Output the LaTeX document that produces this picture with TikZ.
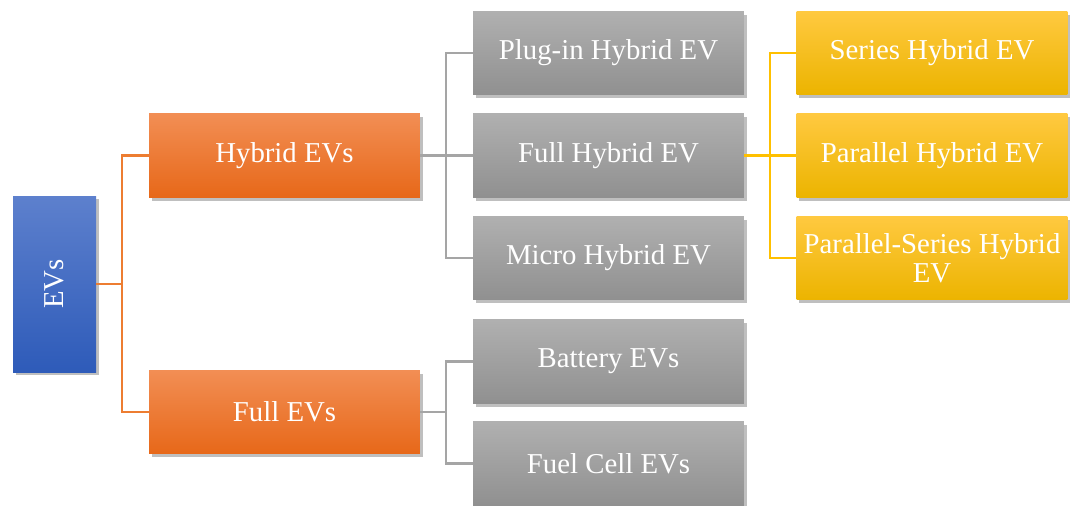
\documentclass[tikz,border=0pt]{standalone}
\usepackage{fontspec}
\setmainfont{Liberation Serif}
\usepackage{tikz}
\usetikzlibrary{shadows,positioning}

\definecolor{bluetop}{RGB}{93,128,205}
\definecolor{bluebot}{RGB}{46,91,185}
\definecolor{orangetop}{RGB}{242,142,84}
\definecolor{orangebot}{RGB}{231,104,25}
\definecolor{graytop}{RGB}{176,176,176}
\definecolor{graybot}{RGB}{144,144,144}
\definecolor{yellowtop}{RGB}{255,201,64}
\definecolor{yellowbot}{RGB}{236,180,0}
\definecolor{orangeline}{RGB}{237,125,49}
\definecolor{grayline}{RGB}{165,165,165}
\definecolor{yellowline}{RGB}{255,192,0}

\begin{document}
\begin{tikzpicture}[x=0.75pt, y=-0.75pt,
    box/.style={rectangle, minimum width=203pt, minimum height=62.5pt,
        text=white, align=center, inner sep=0.5pt,
        font=\fontsize{21.6}{21.5}\selectfont,
        drop shadow={shadow xshift=2pt, shadow yshift=-2.5pt, opacity=0.25, fill=black}},
    bluebox/.style={box, top color=bluetop, bottom color=bluebot,
        minimum width=62.25pt, minimum height=132pt},
    orangebox/.style={box, top color=orangetop, bottom color=orangebot},
    graybox/.style={box, top color=graytop, bottom color=graybot},
    yellowbox/.style={box, top color=yellowtop, bottom color=yellowbot},
    link/.style={line width=1.6pt}]
    \useasboundingbox (0,0) rectangle (1070,506);

    % root
    \node[bluebox] (evs) at (54.5,284) {\rotatebox{90}{EVs}};

    % level 1
    \node[orangebox] (hybrid) at (284.5,155.5) {Hybrid EVs};
    \node[orangebox] (full) at (284.5,412) {Full EVs};

    % level 2
    \node[graybox] (plugin) at (608.5,53) {Plug-in Hybrid EV};
    \node[graybox] (fullhyb) at (608.5,155.5) {Full Hybrid EV};
    \node[graybox] (micro) at (608.5,258) {Micro Hybrid EV};
    \node[graybox] (battery) at (608.5,361.5) {Battery EVs};
    \node[graybox] (fuelcell) at (608.5,463.5) {Fuel Cell EVs};

    % level 3
    \node[yellowbox] (series) at (932,53) {Series Hybrid EV};
    \node[yellowbox] (parallel) at (932,155.5) {Parallel Hybrid EV};
    \node[yellowbox] (parseries) at (932,258) {Parallel-Series Hybrid\\EV};

    % connectors
    \foreach \t in {hybrid, full}
        \draw[link, orangeline] (evs.east) -- ++(26,0) |- (\t.west);
    \foreach \t in {plugin, fullhyb, micro}
        \draw[link, grayline] (hybrid.east) -- ++(26,0) |- (\t.west);
    \foreach \t in {battery, fuelcell}
        \draw[link, grayline] (full.east) -- ++(26,0) |- (\t.west);
    \foreach \t in {series, parallel, parseries}
        \draw[link, yellowline] (fullhyb.east) -- ++(26,0) |- (\t.west);
\end{tikzpicture}
\end{document}
